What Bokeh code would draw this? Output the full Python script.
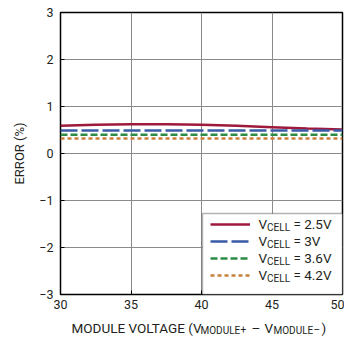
from bokeh.plotting import figure
from bokeh.layouts import column
from bokeh.models import Range1d, FixedTicker, Legend, LegendItem, Label, BoxAnnotation
from bokeh.embed import file_html
from bokeh.resources import INLINE

# ---- data ----
module_voltage = [30, 32.5, 35, 37.5, 40, 42.5, 45, 47.5, 50]
err_2v5 = [0.59, 0.61, 0.62, 0.62, 0.61, 0.59, 0.56, 0.53, 0.51]
err_3v0 = [0.49, 0.49, 0.49, 0.49, 0.49, 0.49, 0.49, 0.49, 0.49]
err_3v6 = [0.40, 0.40, 0.40, 0.40, 0.40, 0.40, 0.40, 0.40, 0.40]
err_4v2 = [0.32, 0.32, 0.32, 0.32, 0.32, 0.32, 0.32, 0.32, 0.32]
series_values = ["2.5V", "3V", "3.6V", "4.2V"]
x_ticks = [30, 35, 40, 45, 50]
y_ticks = [-3, -2, -1, 0, 1, 2, 3]
y_tick_labels = ["\u22123", "\u22122", "\u22121", "0", "1", "2", "3"]

FONT = "Roboto"
TXT = "#231f20"

p = figure(width=344, height=316, output_backend="svg", toolbar_location=None,
           x_range=Range1d(30, 50), y_range=Range1d(-3, 3),
           min_border_left=60, min_border_right=2, min_border_top=12, min_border_bottom=22)

p.outline_line_color = "black"
p.outline_line_width = 1.5
for ax in (p.xaxis[0], p.yaxis[0]):
    ax.axis_line_color = None
    ax.major_tick_in = 4
    ax.major_tick_out = 0
    ax.major_tick_line_color = "black"
    ax.minor_tick_line_color = None
    ax.major_label_text_font = FONT
    ax.major_label_text_font_size = "12.5px"
    ax.major_label_text_color = TXT
p.xaxis.ticker = FixedTicker(ticks=x_ticks)
p.yaxis.ticker = FixedTicker(ticks=y_ticks)
p.yaxis.major_label_overrides = {t: l for t, l in zip(y_ticks, y_tick_labels)}
p.xaxis.major_label_standoff = 5
p.yaxis.major_label_standoff = 7
p.yaxis.axis_label = "ERROR (%)"
p.yaxis.axis_label_text_font = FONT
p.yaxis.axis_label_text_font_size = "13px"
p.yaxis.axis_label_text_font_style = "normal"
p.yaxis.axis_label_text_color = TXT
p.yaxis.axis_label_standoff = 9
p.xgrid.ticker = FixedTicker(ticks=x_ticks)
p.ygrid.ticker = FixedTicker(ticks=y_ticks)
p.grid.grid_line_color = "#8a8a8a"
p.grid.grid_line_width = 1

colors = ["#9e1a3c", "#3a5ba8", "#2e8b45", "#c8803a"]
dashes = ["solid", "17 4", "7 3", "4 3"]
series = [err_2v5, err_3v0, err_3v6, err_4v2]

# legend box (drawn under the legend samples and texts)
p.add_layout(BoxAnnotation(left=142, right=282, bottom=0, top=81,
                           left_units="screen", right_units="screen",
                           bottom_units="screen", top_units="screen",
                           fill_color="white", fill_alpha=1.0,
                           line_color="black", line_width=1.5))

items = []
for ys, c, d in zip(series, colors, dashes):
    r = p.line(module_voltage, ys, line_color=c, line_width=2.5, line_dash=d)
    items.append(LegendItem(label=" ", renderers=[r]))

legend = Legend(items=items, location=(150, 12), margin=0, padding=8, spacing=3,
                glyph_width=40, glyph_height=14, label_height=14, label_width=70,
                label_standoff=4, border_line_color=None,
                background_fill_alpha=0.0, label_text_font_size="1px")
p.add_layout(legend)

# ---- rich text helpers (Roboto metrics, em) ----
W = {'M': .872, 'O': .688, 'D': .654, 'U': .649, 'L': .539, 'E': .568, ' ': .248,
     'V': .637, 'T': .613, 'A': .652, 'G': .681, '(': .342, ')': .348, '+': .566,
     '\u2013': .55, 'C': .652, '=': .55, '.': .263, '2': .562, '3': .562, '4': .562,
     '5': .562, '6': .562}

def tw(s, size):
    return sum(W.get(ch, .56) for ch in s) * size

def put(fig, s, size, x, yb):
    fig.add_layout(Label(x=x, y=yb, x_units="screen", y_units="screen", text=s,
                         text_font=FONT, text_font_size=f"{size}px", text_color=TXT,
                         text_baseline="alphabetic", text_align="left"))

def rich(fig, parts, x0, yb):
    x = x0
    for s, size, dy in parts:
        lead = len(s) - len(s.lstrip(" "))
        x += tw(" " * lead, size)
        put(fig, s.lstrip(" "), size, x, yb + dy)
        x += tw(s.lstrip(" "), size)

# legend texts (frame-relative screen units)
for i, v in enumerate(series_values):
    cy = 75 - 17 * i
    rich(p, [("V", 13.5, 0), ("CELL", 10, -3), (" = " + v, 13.5, 0)], 198, cy - 4.8)

# x axis title in a strip below (its frame is aligned with the main frame)
p2 = figure(width=344, height=21, output_backend="svg", toolbar_location=None,
            x_axis_type=None, y_axis_type=None, x_range=Range1d(0, 1),
            y_range=Range1d(0, 1), min_border_left=60, min_border_right=2,
            min_border_top=0, min_border_bottom=0, outline_line_color=None)
title_parts = [("MODULE VOLTAGE (V", 13.5, 11, 10), ("MODULE", 10, 140, 7), ("+", 10, 180, 9),
               ("\u2013", 13.5, 191, 10), ("V", 13.5, 204, 10), ("MODULE", 10, 213, 7),
               ("\u2013", 10, 253, 8), (")", 13.5, 261, 10)]
for s, sz, x, yb in title_parts:
    put(p2, s, sz, x, yb)

layout = column(p, p2, spacing=0)
open("out.html", "w").write(file_html(layout, INLINE))
